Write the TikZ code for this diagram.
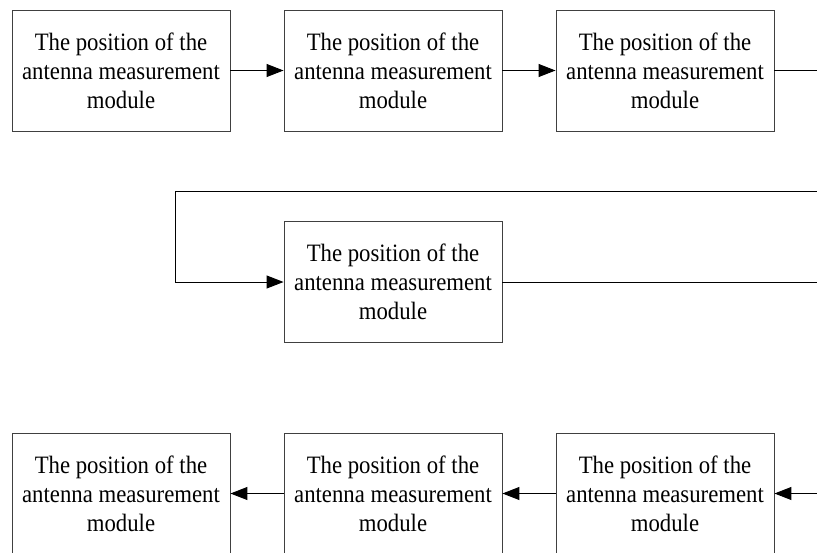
\documentclass[tikz,border=0pt]{standalone}
\usepackage{fontspec}
\setmainfont{Liberation Serif}[FakeStretch=0.91]
\usetikzlibrary{arrows.meta}
\begin{document}
\begin{tikzpicture}[x=1pt,y=-1pt,
  modbox/.style={draw=black!75,line width=0.9pt,minimum width=218pt,minimum height=121pt,inner sep=0pt,align=center,font=\fontsize{25}{29}\selectfont},
  conn/.style={line width=1pt,draw=black},
  arr/.style={conn,-{Triangle[length=17pt,width=13pt]}}]
\clip (0,0) rectangle (817,552);
\fill[white] (0,0) rectangle (817,552);
\def\modtext{The position of the\\antenna measurement\\module}
\node[modbox] (a1) at (121,70.5) {\modtext};
\node[modbox] (a2) at (393,70.5) {\modtext};
\node[modbox] (a3) at (665,70.5) {\modtext};
\node[modbox] (b1) at (393,282) {\modtext};
\node[modbox] (c1) at (121,493.5) {\modtext};
\node[modbox] (c2) at (393,493.5) {\modtext};
\node[modbox] (c3) at (665,493.5) {\modtext};
\coordinate (r1) at (840,70.5);
\coordinate (r2) at (840,191);
\coordinate (l1) at (175,191);
\coordinate (l2) at (175,282);
\coordinate (r3) at (840,282);
\coordinate (r4) at (840,493.5);
\draw[arr] (a1) -- (a2);
\draw[arr] (a2) -- (a3);
\draw[conn] (a3.east) -- (r1) -- (r2) -- (l1) -- (l2);
\draw[arr] (l2) -- (b1.west);
\draw[conn] (b1.east) -- (r3) -- (r4);
\draw[arr] (r4) -- (c3.east);
\draw[arr] (c3) -- (c2);
\draw[arr] (c2) -- (c1);
\end{tikzpicture}
\end{document}
